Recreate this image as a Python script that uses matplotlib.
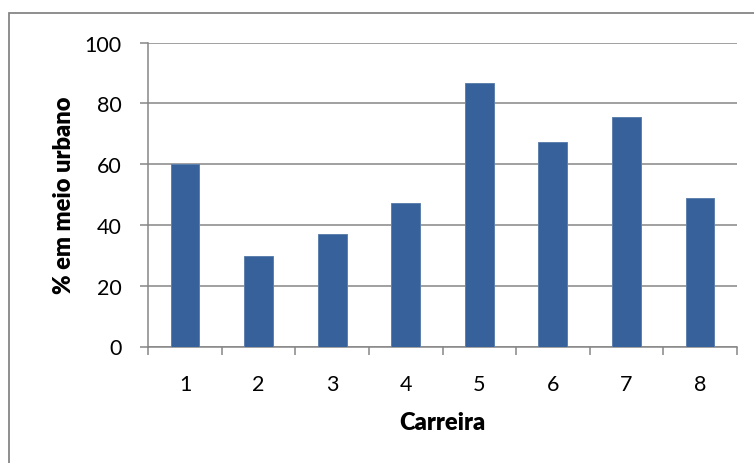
import matplotlib
matplotlib.use("Agg")
import matplotlib.pyplot as plt
from matplotlib.patches import Rectangle

plt.rcParams['font.family'] = ['Lato', 'DejaVu Sans']

carreiras = [1, 2, 3, 4, 5, 6, 7, 8]
pct_urbano = [60.0, 29.7, 37.0, 47.3, 86.6, 67.3, 75.4, 48.7]
y_ticks = [0, 20, 40, 60, 80, 100]

bar_color = '#36619A'
grid_color = '#868686'

fig = plt.figure(figsize=(7.54, 4.64), dpi=100)
ax = fig.add_axes([148.3 / 754, 1 - 347.5 / 464, (736.7 - 148.3) / 754, (347.5 - 43.5) / 464])

ax.bar(carreiras, pct_urbano, width=0.39, color=bar_color,
       edgecolor='#5E80AE', linewidth=0.7, zorder=3)

ax.set_xlim(0.5, 8.5)
ax.set_ylim(0, 100)
ax.set_yticks(y_ticks)
ax.set_xticks(carreiras)
ax.set_xticks([0.5 + i for i in range(9)], minor=True)

ax.grid(axis='y', color=grid_color, linewidth=1.1, zorder=0)
for side in ('top', 'right'):
    ax.spines[side].set_visible(False)
for side in ('left', 'bottom'):
    ax.spines[side].set_color(grid_color)
    ax.spines[side].set_linewidth(1.1)

ax.tick_params(axis='y', direction='out', length=5.5, width=1.1, color=grid_color,
               pad=13.5, labelsize=15.5, labelcolor='black')
ax.tick_params(axis='x', which='major', length=0, pad=20, labelsize=15.5, labelcolor='black')
ax.tick_params(axis='x', which='minor', direction='out', length=5.5, width=1.1, color=grid_color)

ax.set_xlabel('Carreira', fontsize=17, fontweight='heavy', labelpad=12)
ax.set_ylabel('% em meio urbano', fontsize=17, fontweight='heavy', labelpad=7)

# chart-area frame
fig.patches.append(Rectangle((8.5 / 754, -0.1), 1.2, (464 - 13.5) / 464 + 0.1,
                             transform=fig.transFigure, fill=False,
                             edgecolor=grid_color, linewidth=1.3, zorder=0))

fig.savefig('out.png', dpi=100)
